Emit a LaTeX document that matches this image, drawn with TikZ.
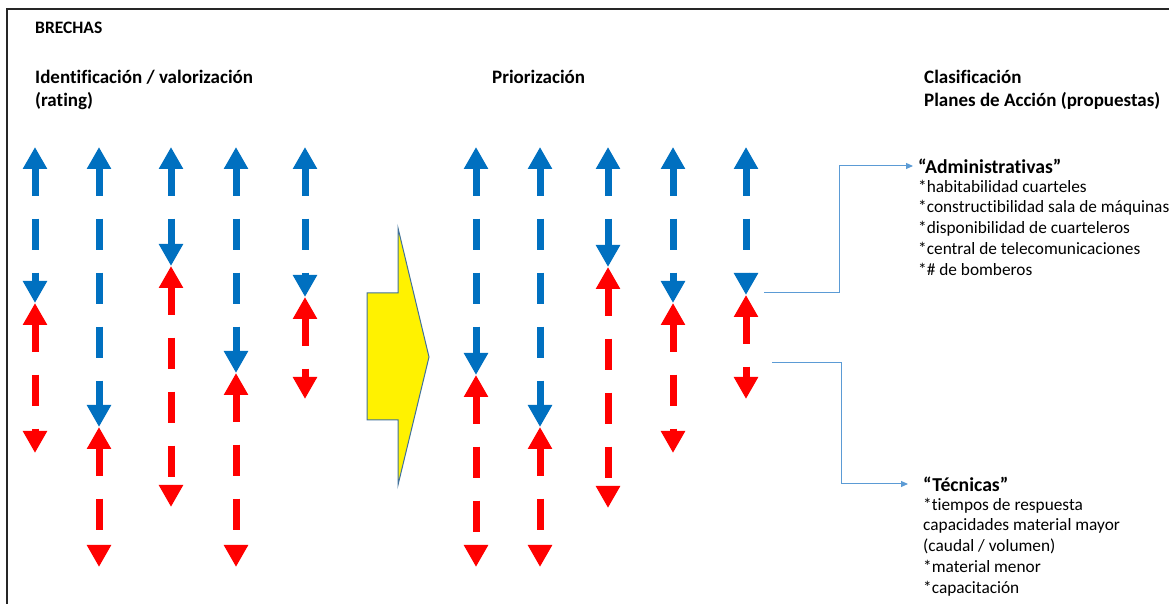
\documentclass[tikz,border=0pt]{standalone}
\usepackage{fontspec}
\setmainfont{Carlito}[Ligatures={NoCommon}]
\usetikzlibrary{arrows.meta}
\usetikzlibrary{positioning}
\definecolor{gapblue}{HTML}{0070C0}
\definecolor{gapred}{HTML}{FF0000}
\definecolor{linkblue}{HTML}{5B9BD5}
\definecolor{shapeedge}{HTML}{41719C}
\tikzset{gaptip/.tip = {Triangle[length=22pt,width=23pt]}}
\tikzset{gap/.style = {line width=7pt, dash pattern=on 31pt off 23pt, dash phase=3pt,
                       gaptip-gaptip}}
\tikzset{head/.style = {font=\bfseries\fontsize{19}{24}\selectfont, anchor=west, inner sep=0}}
\tikzset{group/.style = {font=\bfseries\fontsize{19.7}{23}\selectfont, anchor=west,
                         inner xsep=5pt, inner ysep=0}}
\tikzset{items/.style = {font=\fontsize{17.3}{20.8}\selectfont, align=left, inner sep=0}}
\tikzset{link/.style = {draw=linkblue, line width=1pt, -{Triangle[length=7pt,width=6pt]}}}

\begin{document}
\begin{tikzpicture}[x=1pt, y=1pt]
    \useasboundingbox (0,0) rectangle (1169,604);
    \clip (0,0) rectangle (1169,604);
    \draw[line width=2.5pt, black!85] (7,-20) rectangle (1190,595);

    % titulos
    \node[head, font=\bfseries\fontsize{17.5}{20}\selectfont] (brechas) at (35,576) {BRECHAS};
    \node[head] (ident) at (35,527) {Identificación / valorización};
    \node[head] (rating) at (35,503) {(rating)};
    \node[head] (prior) at (492,527) {Priorización};
    \node[head] (clasif) at (924,527) {Clasificación};
    \node[head] (planes) at (924,503) {Planes de Acción (propuestas)};

    % brechas: x / encuentro / fin
    \foreach \x/\m/\e in {35/301/151, 99/177/37, 171/338/97, 236/231/37, 305/307/205,
                          476/229/37, 540/177/37, 608/337/96, 673/301/151, 746/309/205} {
      \draw[gap, gapblue] (\x,457) -- (\x,\m);
      \draw[gap, gapred] (\x,\m) -- (\x,\e);
    }

    % flecha grande
    \filldraw[fill=yellow, draw=shapeedge, line width=1pt]
      (367,311) -- (398,311) -- (398,376) -- (429,247) -- (398,119) -- (398,184) -- (367,184) -- cycle;

    % clasificacion
    \node[group] (adm) at (913,438) {“Administrativas”};
    \node[items, below right=6pt and 5pt of adm.south west] (admlist)
      {*habitabilidad cuarteles\\*constructibilidad sala de máquinas\\*disponibilidad de cuarteleros\\
       *central de telecomunicaciones\\*\# de bomberos};
    \node[group] (tec) at (918,120) {“Técnicas”};
    \node[items, below right=6pt and 5pt of tec.south west] (teclist)
      {*tiempos de respuesta\\capacidades material mayor\\(caudal / volumen)\\*material menor\\*capacitación};

    \coordinate (admfrom) at (764,311);
    \coordinate (tecfrom) at (772,241);
    \draw[link] (admfrom) -- ++(75,0) |- (adm);
    \draw[link, shorten >=10pt] (tecfrom) -- ++(69,0) |- (tec);
\end{tikzpicture}
\end{document}
